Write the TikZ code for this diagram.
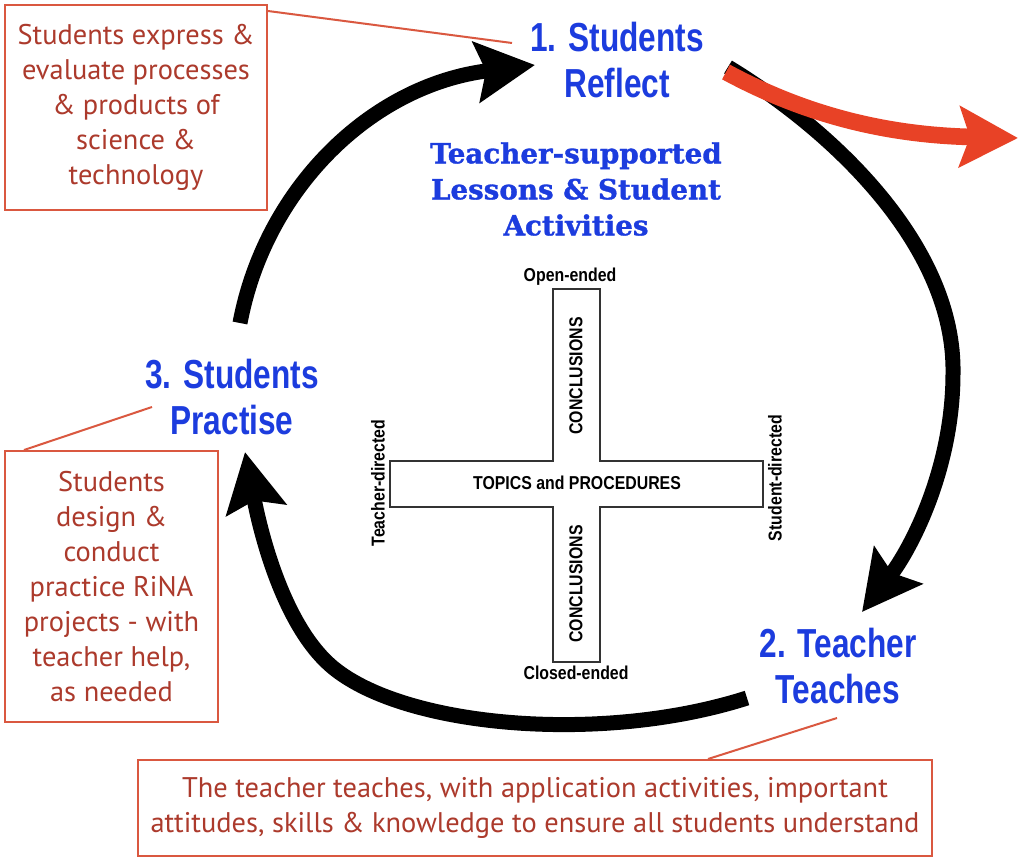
\documentclass[tikz,border=0pt]{standalone}
\usepackage{fontspec}
\setmainfont{Liberation Sans}
\newfontfamily\bluefont[FakeStretch=0.78]{Liberation Sans}
\newfontfamily\crossfont[FakeStretch=0.85]{Liberation Sans}
\newfontfamily\slabfont[FakeBold=1.2]{DejaVu Serif}
\newfontfamily\notefont{PT Sans}
\usetikzlibrary{arrows.meta,calc}
\definecolor{stepblue}{RGB}{28,60,222}
\definecolor{notered}{RGB}{172,58,44}
\definecolor{boxred}{RGB}{218,88,64}
\definecolor{arrowred}{RGB}{232,66,38}
\begin{document}
\begin{tikzpicture}[x=0.75pt,y=-0.75pt,
  steplabel/.style={font={\bluefont\bfseries\fontsize{30.4pt}{34pt}\selectfont}, text=stepblue, align=center, inner sep=0pt},
  titlelabel/.style={font={\slabfont\bfseries\fontsize{20.8pt}{27pt}\selectfont}, text=stepblue, align=center, inner sep=0pt},
  crosslabel/.style={font={\crossfont\bfseries\fontsize{14pt}{16pt}\selectfont}, text=black, inner sep=0pt},
  notebox/.style={draw=boxred, line width=1.5pt, text=notered, font={\notefont\fontsize{21.3pt}{26.25pt}\selectfont}, align=center, inner sep=0pt},
  leader/.style={draw=boxred, line width=1.5pt},
  cyc/.style={line width=11.25pt, -{Stealth[length=44pt,width=45pt,inset=7pt]}},
  outarrow/.style={draw=arrowred, line width=12.5pt, -{Stealth[length=43.5pt,width=45pt,inset=7.5pt,fill=arrowred]}},
  crossline/.style={draw=black!80, line width=0.8pt}
]
\useasboundingbox (0,0) rectangle (1024,860);
\fill[white] (0,0) rectangle (1024,860);

% cycle arrows
\coordinate (a1s) at (240,323);
\coordinate (a1e) at (535,65);
\coordinate (a2s) at (728,67);
\coordinate (a2m) at (953,373);
\coordinate (a2e) at (862,612);
\coordinate (a3s) at (747,698);
\coordinate (a3m) at (330,665);
\coordinate (a3e) at (245,452);
\draw[cyc] (a1s) .. controls (265,190) and (370,85) .. (a1e);
\draw[cyc] (a2s) .. controls (840,135) and (955,250) .. (a2m) .. controls (953,470) and (910,550) .. (a2e);
\draw[cyc] (a3s) .. controls (600,745) and (400,727) .. (a3m) .. controls (285,625) and (262,540) .. (a3e);

% outgoing red arrow
\coordinate (rs) at (726,72);
\coordinate (re) at (1018,138);
\draw[outarrow] (rs) .. controls (800,112) and (880,135) .. (re);

% step labels
\node[steplabel] (n1) at (617,60) {1. Students\\Reflect};
\node[steplabel] (n2) at (838,666) {2. Teacher\\Teaches};
\node[steplabel] (n3) at (232,397) {3. Students\\Practise};

\node[titlelabel] (title) at (576,189) {Teacher-supported\\Lessons \& Student\\Activities};

% cross
\draw[crossline] (553,289) -- (600,289) -- (600,461) -- (763,461) -- (763,507) -- (600,507) -- (600,662) -- (553,662) -- (553,507) -- (390,507) -- (390,461) -- (553,461) -- cycle;
\node[crosslabel,rotate=90] (cu) at (576,376) {CONCLUSIONS};
\node[crosslabel,rotate=90] (cl) at (576,584) {CONCLUSIONS};
\node[crosslabel] (tp) at (577,483) {TOPICS and PROCEDURES};
\node[crosslabel] (oe) at (570,277) {Open-ended};
\node[crosslabel] (ce) at (576,673) {Closed-ended};
\node[crosslabel,rotate=90] (td) at (378,483) {Teacher-directed};
\node[crosslabel,rotate=90] (sd) at (775,478) {Student-directed};

% note boxes
\node[notebox, minimum width=196.5pt, minimum height=153.75pt] (b1) at (136,107.5)
  {Students express \&\\evaluate processes\\\& products of\\science \&\\technology};
\node[notebox, minimum width=159.75pt, minimum height=203.25pt] (b3) at (111.5,586.5)
  {Students\\design \&\\conduct\\practice RiNA\\projects - with\\teacher help,\\as needed};
\node[notebox, minimum width=595.5pt, minimum height=72pt] (b2) at (535,808)
  {The teacher teaches, with application activities, important\\attitudes, skills \& knowledge to ensure all students understand};

% leader lines
\coordinate (l1) at (512,43);
\coordinate (l3) at (152,407);
\coordinate (l2) at (837,718);
\draw[leader] ($(b1.north east)+(0,7)$) -- (l1);
\draw[leader] ($(b3.north west)+(20,0)$) -- (l3);
\draw[leader] ($(b2.north)+(173,0)$) -- (l2);
\end{tikzpicture}
\end{document}
